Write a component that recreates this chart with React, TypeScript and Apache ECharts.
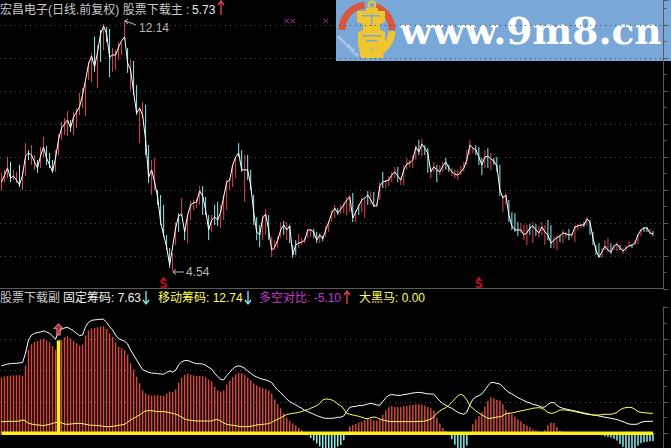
import React, { useEffect, useRef } from "react";
import * as echarts from "echarts";

const closes = [7.24,7.45,7.67,7.36,7.42,7.30,7.15,7.45,8.03,8.12,8.06,7.85,7.67,8.03,8.30,7.97,7.76,7.55,7.97,8.52,8.88,9.00,9.12,8.88,9.21,9.36,9.52,9.88,10.33,10.82,11.06,10.73,11.18,11.73,11.97,11.73,11.03,11.09,11.09,11.33,11.52,11.64,10.85,10.64,9.97,9.33,9.48,9.27,8.52,7.39,7.61,7.24,6.79,6.03,5.64,5.27,4.73,5.27,5.85,6.21,6.27,5.73,6.24,6.55,6.61,6.64,6.97,6.82,6.39,5.79,6.09,6.18,6.09,6.33,6.79,7.24,7.30,7.76,8.00,8.12,7.61,7.61,7.61,7.15,6.33,5.73,5.64,6.15,6.27,5.79,5.18,5.27,5.48,5.79,5.94,5.79,5.91,5.03,5.33,5.39,5.42,5.48,5.79,5.79,5.73,5.48,5.64,5.52,5.79,6.03,6.30,6.45,6.30,6.42,6.55,6.70,6.79,6.15,6.33,6.52,6.70,6.76,6.85,6.70,6.52,6.52,7.12,7.24,7.27,7.30,7.45,7.55,7.42,7.30,7.61,7.79,7.82,7.91,8.30,8.15,8.39,8.27,8.12,7.55,7.70,7.61,7.55,7.73,7.85,7.67,7.55,7.48,7.45,7.55,7.67,7.91,8.36,8.27,8.21,8.00,7.76,8.00,8.03,7.94,7.88,7.73,7.00,6.76,6.85,6.24,5.91,5.79,5.79,5.79,5.64,5.70,5.85,5.91,5.79,5.70,5.88,5.73,5.64,5.39,5.48,5.55,5.61,5.70,5.67,5.64,5.64,5.88,5.91,5.94,5.94,6.12,6.03,5.55,5.18,4.97,5.12,5.30,5.18,5.12,5.30,5.36,5.24,5.15,5.24,5.30,5.33,5.39,5.64,5.79,5.85,5.85,5.70,5.67];
const highs = [7.52,7.61,8.00,7.85,7.61,7.55,7.76,7.58,8.42,8.21,8.36,8.06,7.91,8.30,8.61,8.33,8.12,7.91,8.21,8.70,9.06,9.18,9.39,9.12,9.36,9.48,9.94,10.09,10.24,10.88,11.15,11.64,11.39,11.85,12.03,11.94,11.88,11.30,11.24,11.48,11.45,12.14,11.30,10.94,10.91,10.18,9.52,9.67,9.58,8.36,7.91,7.97,7.00,6.85,6.55,5.64,5.24,5.09,6.03,6.30,6.76,5.85,6.27,6.67,6.70,6.73,7.12,7.12,6.79,6.24,6.24,6.55,6.64,6.55,6.85,7.30,7.36,7.76,8.00,8.42,8.21,8.06,8.06,7.61,6.85,6.18,5.94,6.24,6.42,6.24,5.58,5.48,5.61,6.03,6.06,6.03,5.94,5.33,5.48,5.67,5.55,5.55,5.82,5.82,5.82,5.73,5.70,5.61,5.91,6.06,6.39,6.55,6.45,6.55,6.61,6.79,6.85,6.91,6.39,6.55,6.76,6.76,6.97,6.94,6.94,6.61,7.24,7.55,7.30,7.42,7.55,7.70,7.70,7.36,7.76,7.97,7.91,8.06,8.36,8.52,8.55,8.36,8.27,7.67,7.85,7.76,7.76,7.85,7.97,7.76,7.67,7.61,7.61,7.73,7.85,8.21,8.52,8.30,8.36,8.30,7.97,8.21,8.27,8.12,7.97,8.00,7.76,6.85,6.91,6.70,6.33,6.30,6.03,6.00,5.94,5.94,5.97,6.03,5.97,5.91,6.03,5.94,6.09,5.94,5.58,5.64,5.64,5.79,5.73,5.82,5.70,5.94,5.97,5.97,6.03,6.18,6.09,5.73,5.33,5.39,5.24,5.48,5.55,5.39,5.33,5.42,5.33,5.24,5.33,5.45,5.36,5.48,5.67,5.82,5.88,5.88,5.82,5.76];
const lows = [7.00,7.24,7.36,7.24,7.30,7.21,7.09,7.00,7.42,7.91,7.76,7.61,7.52,7.67,7.97,7.76,7.67,7.52,7.55,8.06,8.52,8.67,8.64,8.76,8.67,8.88,9.27,9.48,9.24,10.33,10.27,10.58,10.09,10.88,11.24,11.48,10.42,10.58,10.64,10.94,11.09,11.55,10.55,10.03,9.88,9.27,8.42,9.18,8.06,7.21,6.85,7.00,6.55,5.94,5.58,5.18,4.64,4.54,5.33,5.73,6.21,5.48,5.39,6.09,6.39,6.45,6.55,6.24,6.24,5.48,5.73,5.94,5.91,5.85,6.09,6.39,7.00,7.09,7.36,8.00,7.55,6.64,7.30,7.00,5.94,5.48,5.27,5.48,5.64,5.48,4.97,5.18,5.24,5.55,5.64,5.48,5.39,4.94,5.03,5.24,5.33,5.39,5.55,5.58,5.55,5.39,5.39,5.45,5.58,5.73,6.03,6.15,6.24,6.27,6.30,6.24,6.33,6.03,6.03,6.24,6.33,6.15,6.55,6.55,6.48,6.48,6.70,7.06,7.06,7.12,7.24,7.36,7.24,7.15,7.15,7.61,7.70,7.67,7.91,8.06,8.03,8.06,7.52,7.36,7.55,7.24,7.45,7.55,7.61,7.55,7.42,7.36,7.30,7.45,7.55,7.76,8.06,8.12,8.06,7.76,7.45,7.67,7.67,7.61,7.76,7.55,6.82,6.33,6.55,6.03,5.79,5.73,5.61,5.70,5.48,5.33,5.64,5.39,5.61,5.55,5.64,5.33,5.48,5.24,5.24,5.18,5.42,5.39,5.55,5.48,5.55,5.42,5.79,5.85,5.88,5.91,5.64,5.33,5.03,4.94,4.94,5.18,5.12,5.06,5.18,5.15,5.18,5.06,5.15,5.27,5.24,5.33,5.36,5.61,5.73,5.73,5.64,5.61];
const candleDirRows = [
  "rrrcrrcrrcrrcrrcccrr",
  "rrrcrrrrrrrcrcrccrrr",
  "rrcrccrrccrrcccccrrc",
  "rcrrrrrcccrccrrrrrrc",
  "crcccccrrcrrrrcrcccr",
  "rrrrccrcrrrrcrrrrcrc",
  "rrcrcrrcrrrrcrrrrrrc",
  "rccrrcrrccrrrrrrrrcc",
  "crcrcccrrccccrrrcrcr",
  "rrccrrcrrcrrrrcrcccc",
  "rrrcrrcrrrcrrrccr",
];
const candleDirs = candleDirRows.join("");

const fixedChip = [42.8,43.4,44.0,44.2,44.4,44.4,44.7,44.9,50.8,59.3,62.4,63.5,63.9,64.3,65.0,64.3,63.5,61.8,59.7,64.6,66.0,66.9,67.3,66.2,65.0,63.5,62.0,62.4,67.7,70.5,71.7,72.0,72.2,72.4,72.4,70.5,67.7,65.6,62.4,60.1,59.3,58.4,56.7,52.9,49.7,46.6,43.4,40.4,39.6,38.7,38.3,38.1,37.9,37.7,37.5,38.7,39.6,38.9,40.0,43.4,45.5,46.1,46.3,45.5,44.7,44.2,44.2,44.0,43.2,41.9,40.8,38.1,36.0,34.3,33.9,36.6,38.7,40.8,42.3,42.8,42.3,41.3,39.6,38.1,36.6,35.8,34.9,34.3,33.9,33.2,32.2,29.6,27.5,25.8,23.7,21.8,20.1,19.0,18.0,16.9,15.9,14.6,13.8,12.9,12.1,11.2,10.6,9.9,9.5,9.5,9.5,9.7,10.2,10.2,11.0,13.8,16.5,16.9,17.1,17.6,17.6,18.0,18.6,19.0,18.6,18.0,17.8,20.1,22.6,24.1,24.6,24.3,24.1,24.1,24.6,24.8,25.2,25.6,25.8,26.0,25.8,25.4,25.0,25.0,24.8,22.6,20.5,18.8,17.8,16.7,15.9,14.6,13.3,12.5,12.1,13.5,18.0,21.6,23.1,23.9,25.0,27.5,30.1,32.2,32.2,31.7,31.3,29.6,27.5,26.0,25.0,23.9,22.6,21.8,20.7,19.9,19.3,18.4,18.0,17.4,16.5,16.7,18.4,19.5,19.5,17.8,16.5,15.9,15.4,15.0,14.6,14.2,13.8,13.3,12.9,12.5,12.1,11.6,11.4,11.0,10.6,10.2,9.9,9.5,9.1,8.7,8.0,7.4,6.6,5.9,5.7,5.7,5.9,7.0,7.4,7.6,7.6,7.63];
const movingChip = [7.4,7.4,7.6,7.6,7.6,7.6,7.8,8.5,7.8,6.3,5.9,5.5,5.3,5.1,4.9,5.3,5.7,6.3,6.8,7.0,6.6,5.9,5.7,5.9,6.1,6.3,6.3,6.1,5.7,5.3,5.1,5.1,4.9,4.7,4.4,4.2,4.2,4.4,4.7,5.1,5.3,5.7,7.0,8.5,9.5,10.6,11.6,13.1,14.2,14.4,14.4,14.0,13.8,13.8,13.8,13.5,13.1,12.7,12.1,11.4,10.2,9.1,8.5,8.3,8.0,7.8,7.8,7.8,7.8,7.8,7.8,8.5,8.7,7.8,6.6,5.7,5.3,5.1,4.9,4.4,4.2,4.2,4.2,4.4,4.9,5.3,5.5,5.7,5.9,6.1,7.0,8.0,8.9,9.9,11.0,11.9,12.3,12.7,12.9,13.3,13.8,14.6,15.0,15.9,16.7,17.6,19.0,21.2,21.8,21.6,21.2,20.1,18.6,17.6,15.4,12.7,12.1,11.6,11.2,10.8,10.2,9.5,9.3,9.9,10.4,9.9,9.1,8.5,8.0,7.6,7.4,7.4,7.4,7.4,7.4,7.4,7.4,7.4,7.4,7.6,7.6,7.8,8.3,9.1,10.4,12.7,14.2,15.4,16.3,17.6,19.7,21.8,23.9,24.8,23.7,21.2,17.6,15.9,14.2,12.9,11.6,10.6,9.5,9.5,9.9,10.4,10.4,11.2,12.5,12.7,12.9,13.3,13.8,14.2,14.6,15.0,15.4,15.9,16.1,16.3,15.9,14.8,13.3,12.7,12.9,13.8,14.8,14.8,14.8,14.4,14.2,13.8,13.3,12.9,12.5,12.1,11.9,11.6,11.6,11.6,11.9,12.1,12.1,12.1,12.5,13.3,14.8,15.9,16.3,16.5,16.3,15.2,13.8,13.3,13.1,12.9,12.7,12.74];
const spread = [35.4,36.0,36.4,36.6,36.8,36.8,36.9,36.4,43.0,53.0,56.5,58.0,58.6,59.2,60.1,59.0,57.8,55.5,52.9,57.6,59.4,61.0,61.6,60.3,58.9,57.2,55.7,56.3,62.0,65.2,66.6,66.9,67.3,67.7,68.0,66.3,63.5,61.2,57.7,55.0,54.0,52.7,49.7,44.4,40.2,36.0,31.8,27.3,25.4,24.3,23.9,24.1,24.1,23.9,23.7,25.2,26.5,26.2,27.9,32.0,35.3,37.0,37.8,37.2,36.7,36.4,36.4,36.2,35.4,34.1,33.0,29.6,27.3,26.5,27.3,30.9,33.4,35.7,37.4,38.4,38.1,37.1,35.4,33.7,31.7,30.5,29.4,28.6,28.0,27.1,25.2,21.6,18.6,15.9,12.7,9.9,7.8,6.3,5.1,3.6,2.1,0.0,-1.2,-3.0,-4.6,-6.4,-8.4,-11.3,-12.3,-12.1,-11.7,-10.4,-8.4,-7.4,-4.4,1.1,4.4,5.3,5.9,6.8,7.4,8.5,9.3,9.1,8.2,8.1,8.7,11.6,14.6,16.5,17.2,16.9,16.7,16.7,17.2,17.4,17.8,18.2,18.4,18.4,18.2,17.6,16.7,15.9,14.4,9.9,6.3,3.4,1.5,-0.9,-3.8,-7.2,-10.6,-12.3,-11.6,-7.7,0.4,5.7,8.9,11.0,13.4,16.9,20.6,22.7,22.3,21.3,20.9,18.4,15.0,13.3,12.1,10.6,8.8,7.6,6.1,4.9,3.9,2.5,1.9,1.1,0.6,1.9,5.1,6.8,6.6,4.0,1.7,1.1,0.6,0.6,0.4,0.4,0.5,0.4,0.4,0.4,0.2,0,-0.2,-0.6,-1.3,-1.9,-2.2,-2.6,-3.4,-4.6,-6.8,-8.5,-9.7,-10.6,-10.6,-9.5,-7.9,-6.3,-5.7,-5.3,-5.1,-5.1];

const slotCount = 221;
const darkHorseIndex = 19;
const darkHorseValue = 59;
const signalArrowValue = 66;
const crossIndexes = [95, 97, 108];
const crossValue = 12.12;
const sellIndexes = [54, 159];
const sellValue = 4.15;
const sellArrowValue = 4.34;

const categories = Array.from({ length: slotCount }, (_, i) => String(i));

const CJK = '"Liberation Sans","Noto Sans CJK SC",sans-serif';
const RED = "#d8434c";
const CYAN = "#86f2f2";
const YELLOW = "#ffff58";

function arrowGlyph(x: number, y1: number, y2: number, up: boolean, color: string) {
  const tipY = up ? y1 : y2;
  const d = up ? 4 : -4;
  return [
    { type: "line", silent: true, shape: { x1: x, y1, x2: x, y2 }, style: { stroke: color, lineWidth: 1.3 } },
    { type: "polyline", silent: true, shape: { points: [[x - 3, tipY + d], [x, tipY], [x + 3, tipY + d]] }, style: { stroke: color, lineWidth: 1.3, fill: "none" } },
  ];
}

function label(x: number, y: number, text: string, fill: string, size = 12) {
  return { type: "text", silent: true, x, y, style: { text, fill, font: `${size}px ${CJK}`, verticalAlign: "middle", textVerticalAlign: "middle" } };
}

const LOGO_Y = "#efc530";
const LOGO_R = "#d9573f";
const BLUE = "#79a8d8";

const watermark: any[] = [
  { type: "rect", silent: true, shape: { x: 336, y: 0, width: 335, height: 61 }, style: { fill: BLUE } },
  { type: "arc", silent: true, shape: { cx: 367, cy: 30, r: 25, startAngle: Math.PI, endAngle: Math.PI * 1.47 }, style: { stroke: LOGO_R, lineWidth: 7, fill: "none" } },
  { type: "arc", silent: true, shape: { cx: 367, cy: 30, r: 25, startAngle: Math.PI * 1.58, endAngle: Math.PI * 2 }, style: { stroke: LOGO_R, lineWidth: 7, fill: "none" } },
  { type: "arc", silent: true, shape: { cx: 367, cy: 30, r: 25, startAngle: 0.05, endAngle: Math.PI * 0.52 }, style: { stroke: LOGO_Y, lineWidth: 7, fill: "none" } },
  { type: "circle", silent: true, shape: { cx: 372, cy: 5, r: 3.5 }, style: { fill: BLUE, stroke: LOGO_Y, lineWidth: 2 } },
  { type: "polygon", silent: true, shape: { points: [[366, 8], [378, 8], [378, 11], [385, 11], [385, 22], [380, 24], [380, 30], [385, 32], [385, 44], [383, 58], [374, 58], [372, 46], [370, 58], [361, 58], [358, 44], [358, 32], [363, 30], [363, 24], [357, 22], [357, 11], [366, 11]] }, style: { fill: LOGO_Y } },
  { type: "rect", silent: true, shape: { x: 362, y: 15, width: 18, height: 1.5 }, style: { fill: BLUE } },
  { type: "rect", silent: true, shape: { x: 371, y: 14, width: 1.5, height: 12 }, style: { fill: BLUE } },
  { type: "rect", silent: true, shape: { x: 362, y: 35, width: 19, height: 1.5 }, style: { fill: BLUE } },
  { type: "rect", silent: true, shape: { x: 366, y: 40, width: 11, height: 1.5 }, style: { fill: BLUE } },
  { type: "text", silent: true, x: 340, y: 34, rotation: -Math.PI / 4, style: { text: "www.9m8.cn", fill: "#f2f6fb", font: `5px ${CJK}` } },
  { type: "text", silent: true, x: 400, y: 31, style: { text: "www.9m8.cn", fill: "#ffffff", font: 'bold 37.6px "DejaVu Serif",serif', verticalAlign: "middle", textVerticalAlign: "middle" } },
];

const overlay: any[] = [
  ...watermark,
  label(0, 10, "宏昌电子(日线.前复权) 股票下载主 :", "#c8c8c8"),
  label(192, 10, "5.73", "#e8e8e8"),
  ...arrowGlyph(221, 1, 15, true, "#e8485a"),
  label(0, 298, "股票下载副", "#c8c8c8"),
  label(63, 298, "固定筹码: 7.63", "#f0f0f0"),
  ...arrowGlyph(146, 291, 304, false, CYAN),
  label(158, 298, "移动筹码: 12.74", YELLOW),
  ...arrowGlyph(248, 291, 304, false, CYAN),
  label(259, 298, "多空对比: -5.10", "#c63ad0"),
  ...arrowGlyph(347, 291, 304, true, "#e8485a"),
  label(359, 298, "大黑马: 0.00", YELLOW),
  label(139, 28, "12.14", "#b8b8b8"),
  label(186, 272, "4.54", "#b8b8b8"),
  { type: "polyline", silent: true, shape: { points: [[125, 21], [128, 22], [131, 23], [136, 25]] }, style: { stroke: "#b8b8b8", lineWidth: 1, fill: "none" } },
  { type: "polyline", silent: true, shape: { points: [[128, 19], [125, 21], [128, 24]] }, style: { stroke: "#b8b8b8", lineWidth: 1, fill: "none" } },
  { type: "line", silent: true, shape: { x1: 173, y1: 272, x2: 184, y2: 272 }, style: { stroke: "#b8b8b8", lineWidth: 1 } },
  { type: "polyline", silent: true, shape: { points: [[176, 269.5], [173, 272], [176, 274.5]] }, style: { stroke: "#b8b8b8", lineWidth: 1, fill: "none" } },
  { type: "line", silent: true, shape: { x1: 0, y1: 288.5, x2: 664, y2: 288.5 }, style: { stroke: "#5a5a5a", lineWidth: 1 } },
];

const gridLine = { show: true, lineStyle: { color: "#4c4c4c", type: [1, 4], width: 1 }, showMinLine: false, showMaxLine: false };

function axisOf(gridIndex: number, min: number, max: number, interval: number) {
  return {
    type: "value", gridIndex, min, max, interval, position: "right", scale: false,
    axisLine: { show: true, onZero: false, lineStyle: { color: "#5a5a5a" } },
    axisTick: { show: true, length: 5, inside: false, lineStyle: { color: "#5a5a5a" } },
    minorTick: { show: true, splitNumber: 2, length: 3, lineStyle: { color: "#5a5a5a" } },
    axisLabel: { show: false },
    splitLine: gridLine,
  };
}

function renderWick(params: any, api: any) {
  const p1 = api.coord([api.value(0), api.value(1)]);
  const p2 = api.coord([api.value(0), api.value(2)]);
  return {
    type: "line",
    shape: { x1: p1[0], y1: p1[1], x2: p2[0], y2: p2[1] },
    style: { stroke: api.value(3) === 1 ? "#e04650" : CYAN, lineWidth: 1 },
  };
}

function renderSpike(params: any, api: any) {
  const p1 = api.coord([api.value(0), 0]);
  const p2 = api.coord([api.value(0), api.value(1)]);
  return {
    type: "line",
    shape: { x1: p1[0], y1: p1[1], x2: p2[0], y2: p2[1] },
    style: { stroke: "#ffee10", lineWidth: 3.5 },
  };
}

const ARROW_PATH = "path://M5,0L10,5L7,5L7,12L3,12L3,5L0,5Z";
const CROSS_PATH = "path://M0,1L1,0L5,4L9,0L10,1L6,5L10,9L9,10L5,6L1,10L0,9L4,5Z";

export default function App() {
  const ref = useRef<HTMLDivElement>(null);
  useEffect(() => {
    document.body.style.margin = "0";
    document.body.style.background = "#000";
    document.body.style.overflow = "hidden";
    const chart = echarts.init(ref.current as HTMLDivElement, undefined, { renderer: "svg" });
    const wickData = closes.map((_, i) => [i, highs[i], lows[i], candleDirs[i] === "r" ? 1 : 0]);
    chart.setOption({
      animation: false,
      backgroundColor: "#000000",
      grid: [
        { left: 0, width: 663.5, top: 0, height: 289 },
        { left: 0, width: 663.5, top: 307.3, height: 157.5 },
      ],
      xAxis: [
        { type: "category", gridIndex: 0, data: categories, show: false, boundaryGap: true },
        { type: "category", gridIndex: 1, data: categories, show: false, boundaryGap: true },
      ],
      yAxis: [axisOf(0, 4, 12.757, 1), axisOf(1, -20, 80, 20)],
      graphic: { elements: overlay },
      series: [
        { name: "wicks", type: "custom", xAxisIndex: 0, yAxisIndex: 0, renderItem: renderWick, data: wickData, encode: { x: 0, y: [1, 2] }, clip: false, silent: true },
        { name: "close", type: "line", xAxisIndex: 0, yAxisIndex: 0, data: closes, showSymbol: false, symbol: "none", lineStyle: { color: "#ffffff", width: 1 }, silent: true },
        { name: "crosses", type: "scatter", xAxisIndex: 0, yAxisIndex: 0, data: crossIndexes.map((i) => [i, crossValue]), symbol: CROSS_PATH, symbolSize: 5, itemStyle: { color: "#cc44cc" }, silent: true },
        { name: "sell", type: "scatter", xAxisIndex: 0, yAxisIndex: 0, data: sellIndexes.map((i) => [i, sellValue]), symbolSize: 0, silent: true, label: { show: true, position: "inside", formatter: "S", color: "#e8102c", fontFamily: '"DejaVu Sans",sans-serif', fontWeight: "bold", fontSize: 12 } },
        { name: "sellArrow", type: "scatter", xAxisIndex: 0, yAxisIndex: 0, data: sellIndexes.map((i) => [i, sellArrowValue]), symbol: "triangle", symbolSize: 4, itemStyle: { color: "#e8102c" }, silent: true },
        { name: "spread", type: "bar", xAxisIndex: 1, yAxisIndex: 1, barWidth: 1.5, silent: true, data: spread.map((v) => ({ value: v, itemStyle: { color: v >= 0 ? "#d4483f" : CYAN } })) },
        { name: "fixed", type: "line", xAxisIndex: 1, yAxisIndex: 1, data: fixedChip, showSymbol: false, symbol: "none", lineStyle: { color: "#ffffff", width: 1 }, silent: true },
        { name: "moving", type: "line", xAxisIndex: 1, yAxisIndex: 1, data: movingChip, showSymbol: false, symbol: "none", lineStyle: { color: YELLOW, width: 1 }, silent: true },
        { name: "baseline", type: "line", xAxisIndex: 1, yAxisIndex: 1, data: closes.map(() => 0), showSymbol: false, symbol: "none", lineStyle: { color: "#ffee10", width: 3.5 }, silent: true },
        { name: "darkHorse", type: "custom", xAxisIndex: 1, yAxisIndex: 1, renderItem: renderSpike, data: [[darkHorseIndex, darkHorseValue]], encode: { x: 0, y: 1 }, silent: true, z: 3 },
        { name: "signal", type: "scatter", xAxisIndex: 1, yAxisIndex: 1, data: [[darkHorseIndex, signalArrowValue]], symbol: ARROW_PATH, symbolSize: [9, 11], itemStyle: { color: "#e83a48", borderColor: "#d89a9a", borderWidth: 1 }, silent: true, z: 4 },
      ],
    });
    return () => chart.dispose();
  }, []);
  return <div ref={ref} style={{ position: "absolute", left: 0, top: 0, width: 671, height: 480 }} />;
}
